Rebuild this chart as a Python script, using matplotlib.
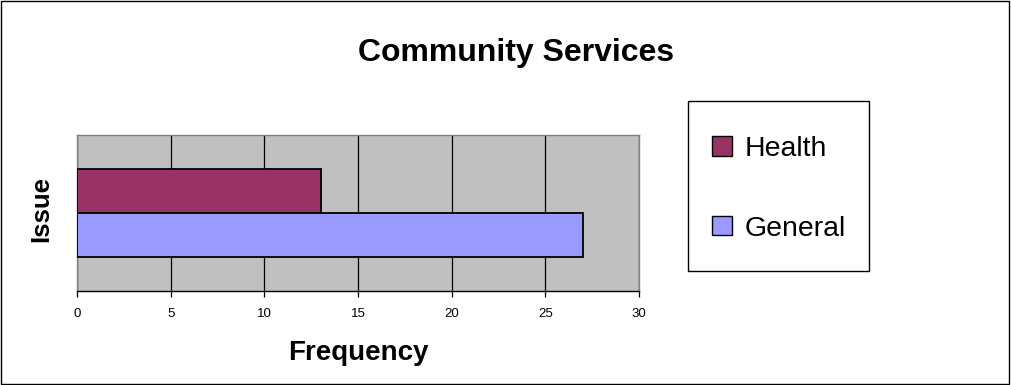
import matplotlib
matplotlib.use("Agg")
import matplotlib.pyplot as plt
from matplotlib.patches import Rectangle, Patch

plt.rcParams['font.family'] = ['Liberation Sans', 'DejaVu Sans']

title = "Community Services"
series = ["Health", "General"]
values = [13, 27]
colors = ["#993366", "#9999FF"]
x_ticks = [0, 5, 10, 15, 20, 25, 30]
x_label = "Frequency"
y_label = "Issue"

W, H = 1011, 385
fig = plt.figure(figsize=(W / 100, H / 100), dpi=100)
fig.patch.set_facecolor("white")

# outer chart frame
fig.add_artist(Rectangle((0.0005, 0.0013), 0.998, 0.996, transform=fig.transFigure,
                         fill=False, edgecolor="black", linewidth=1.0))

ax = fig.add_axes([77 / W, 1 - 291 / H, 562 / W, 156 / H])
ax.set_facecolor("#C0C0C0")

bar_h = 0.284
# Health sits above General within the single category group
offsets = [bar_h / 2, -bar_h / 2]
for name, val, col, off in zip(series, values, colors, offsets):
    ax.barh(off, val, height=bar_h, color=col, edgecolor="black", linewidth=1.3,
            label=name, zorder=3)

ax.set_xlim(x_ticks[0], x_ticks[-1])
ax.set_ylim(-0.5, 0.5)
ax.set_xticks(x_ticks)
ax.set_xticklabels([str(t) for t in x_ticks], fontsize=9.5)
ax.set_yticks([])
ax.xaxis.grid(True, color="black", linewidth=0.9, zorder=1)
ax.set_axisbelow(True)
ax.tick_params(axis="x", direction="out", length=4, width=0.9, pad=8, colors="black")

for side in ["top", "right", "left"]:
    ax.spines[side].set_color("#808080")
    ax.spines[side].set_linewidth(1.0)
ax.spines["bottom"].set_color("black")
ax.spines["bottom"].set_linewidth(1.0)

ax.set_xlabel(x_label, fontsize=20, fontweight="bold")
ax.set_ylabel(y_label, fontsize=18.5, fontweight="bold")
ax.xaxis.set_label_coords(0.5, -0.315)
ax.yaxis.set_label_coords(-0.043, 0.526)

fig.text(516 / W, 1 - 61 / H, title, ha="center", va="baseline",
         fontsize=23, fontweight="bold")

# legend box
fig.add_artist(Rectangle((688 / W, 1 - 271 / H), 181 / W, 170 / H,
                         transform=fig.transFigure, fill=True, facecolor="white",
                         edgecolor="black", linewidth=1.0, zorder=2))
handles = [Patch(facecolor=c, edgecolor="black", linewidth=1.0, label=s)
           for s, c in zip(series, colors)]
leg = fig.legend(handles=handles, loc="upper left",
                 bbox_to_anchor=(712 / W, 1 - 136 / H),
                 fontsize=20.5, frameon=False, borderaxespad=0, borderpad=0,
                 handlelength=0.69, handleheight=0.69,
                 handletextpad=0.45, labelspacing=1.88)
leg.set_zorder(3)

fig.savefig("out.png", dpi=100, facecolor="white")
